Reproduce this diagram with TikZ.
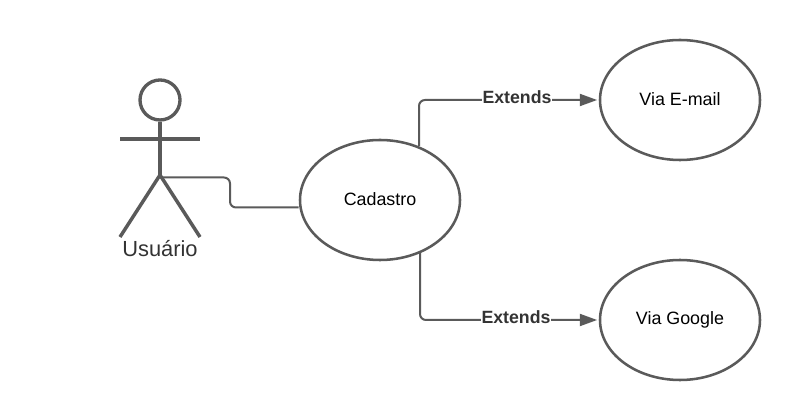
\documentclass[tikz,border=0pt]{standalone}
\usepackage{fontspec}
\setmainfont{Liberation Sans}
\usetikzlibrary{arrows.meta,shapes.geometric}
\definecolor{ln}{HTML}{5A5A5A}
\definecolor{tx}{HTML}{333333}
\newcommand{\up}[1]{\raisebox{1.9pt}{#1}}
\tikzset{
  uc/.style={draw=ln,line width=1.9pt,ellipse,minimum width=120pt,minimum height=90pt,inner sep=0pt,text=black,font=\fontsize{13.4}{15}\selectfont},
  conn/.style={draw=ln,line width=1.5pt,rounded corners=4.5pt},
  tip/.style={-{Triangle[length=13pt,width=9pt]},shorten >=1.2pt},
  lab/.style={fill=white,text=tx,font=\bfseries\fontsize{13.3}{15}\selectfont,inner sep=0.5pt},
  act/.style={draw=ln,line width=2.6pt}
}
\begin{document}
\begin{tikzpicture}[x=0.75pt,y=-0.75pt]
\useasboundingbox (0,0) rectangle (800,420);
\fill[white] (0,0) rectangle (800,420);
\node[uc] (cad) at (380,200) {\up{Cadastro}};
\node[uc] (mail) at (680,100) {\up{Via E-mail}};
\node[uc] (goo) at (680,320) {\up{Via Google}};
\node[circle,draw=ln,line width=2.5pt,minimum size=30pt,inner sep=0pt] (head) at (160,100) {};
\coordinate (hip) at (160,175);
\coordinate (la) at (120,139);
\coordinate (ra) at (200,139);
\coordinate (lf) at (120,237);
\coordinate (rf) at (200,237);
\draw[act] (head.south) -- (hip);
\draw[act] (la) -- (ra);
\draw[act] (lf) -- (hip) -- (rf);
\node[text=tx,font=\fontsize{16.4}{18}\selectfont,inner sep=0pt] (usr) at (160,248.5) {Usuário};
\coordinate (a1) at (230,177.5);
\coordinate (a2) at (230,207.5);
\coordinate (a0) at (160,177.5);
\draw[conn] (a0) -- (a1) -- (a2) -- (cad.west |- a2);
\coordinate (s1) at (419,146);
\coordinate (e1) at (419,100);
\coordinate (s2) at (420,253);
\coordinate (e2) at (420,320);
\draw[conn,tip] (s1) -- (e1) -- (mail.west);
\draw[conn,tip] (s2) -- (e2) -- (goo.west);
\node[lab] (x1) at (517,97.4) {Extends};
\node[lab] (x2) at (516,317.4) {Extends};
\end{tikzpicture}
\end{document}
